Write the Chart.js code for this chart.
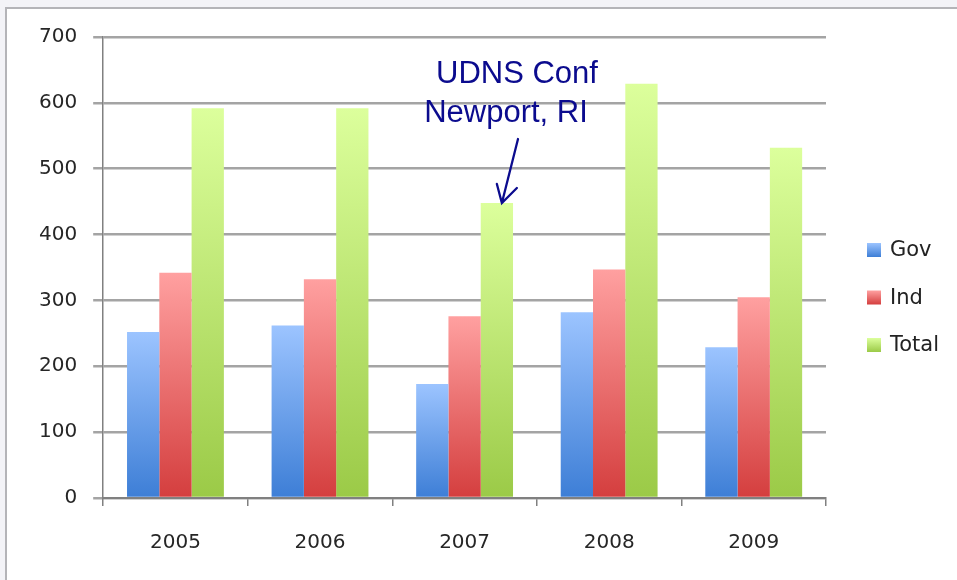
<!DOCTYPE html>
<html>
<head>
<meta charset="utf-8">
<script src="https://cdn.jsdelivr.net/npm/chart.js@4"></script>
<style>
  html, body { margin: 0; padding: 0; background: #f3f3f7; }
  #frame {
    position: absolute; left: 5px; top: 7px; width: 960px; height: 580px;
    background: #fff; border-left: 2px solid #b4b4b8; border-top: 2px solid #b4b4b8;
  }
  #wrap { position: absolute; left: 0; top: 0; width: 957px; height: 580px; }
</style>
</head>
<body>
<div id="frame"></div>
<div id="wrap"><canvas id="chart" width="957" height="580"></canvas></div>
<script>
const years = ['2005', '2006', '2007', '2008', '2009'];
const gov = [252, 262, 173, 282, 229];
const ind = [342, 332, 276, 347, 305];
const total = [592, 592, 448, 629, 532];
const yTicks = [0, 100, 200, 300, 400, 500, 600, 700];
const noteLines = ['UDNS Conf', 'Newport, RI'];
const noteYear = '2007';

const colors = [
    ['#9cc4ff', '#3d7ed6'],
    ['#ffa0a0', '#d43e3e'],
    ['#dcff9c', '#9bca47'],
];

const tickFont = { family: "'DejaVu Sans', sans-serif", size: 20 };

// each bar gets its own top-to-bottom gradient
function barGradient(top, bottom) {
    return function (ctx) {
        const chart = ctx.chart;
        const area = chart.chartArea;
        if (!area || ctx.raw === undefined) return bottom;
        const y = chart.scales.y.getPixelForValue(ctx.raw);
        const g = chart.ctx.createLinearGradient(0, y, 0, area.bottom);
        g.addColorStop(0, top);
        g.addColorStop(1, bottom);
        return g;
    };
}

const legendPlugin = {
    id: 'sideLegend',
    afterDraw(chart) {
        const c = chart.ctx;
        const area = chart.chartArea;
        const x = area.right + 41;
        c.save();
        c.font = "21px 'DejaVu Sans', sans-serif";
        c.textBaseline = 'middle';
        chart.data.datasets.forEach(function (ds, i) {
            const y = area.top + 213 + i * 47.5;
            const g = c.createLinearGradient(0, y - 7, 0, y + 7);
            g.addColorStop(0, colors[i][0]);
            g.addColorStop(1, colors[i][1]);
            c.fillStyle = g;
            c.fillRect(x, y - 7, 14, 14);
            c.fillStyle = '#222';
            c.fillText(ds.label, x + 23, y + 1);
        });
        c.restore();
    }
};

// annotation with arrow pointing at the Total bar of noteYear
const notePlugin = {
    id: 'note',
    afterDatasetsDraw(chart) {
        const c = chart.ctx;
        const idx = years.indexOf(noteYear);
        const bar = chart.getDatasetMeta(2).data[idx];
        const tipX = bar.x + 5;
        const tipY = bar.y;
        c.save();
        c.fillStyle = '#0b0b8e';
        c.font = "31px 'Liberation Sans', Arial, sans-serif";
        c.textAlign = 'center';
        c.fillText(noteLines[0], 517, 83);
        c.fillText(noteLines[1], 506, 122);
        c.strokeStyle = '#0b0b8e';
        c.lineWidth = 2.3;
        c.lineCap = 'round';
        c.beginPath();
        c.moveTo(518, 139);
        c.lineTo(tipX, tipY);
        c.moveTo(tipX - 5, tipY - 19);
        c.lineTo(tipX, tipY);
        c.lineTo(tipX + 15, tipY - 15);
        c.stroke();
        c.restore();
    }
};

new Chart(document.getElementById('chart'), {
    type: 'bar',
    data: {
        labels: years,
        datasets: [
            { label: 'Gov', data: gov, backgroundColor: barGradient(colors[0][0], colors[0][1]) },
            { label: 'Ind', data: ind, backgroundColor: barGradient(colors[1][0], colors[1][1]) },
            { label: 'Total', data: total, backgroundColor: barGradient(colors[2][0], colors[2][1]) },
        ],
    },
    options: {
        responsive: false,
        animation: false,
        layout: { padding: { left: 23, top: 37, right: 131, bottom: 0 } },
        datasets: { bar: { categoryPercentage: 0.67, barPercentage: 1.0 } },
        plugins: {
            tooltip: { enabled: false },
            legend: { display: false },
        },
        scales: {
            x: {
                grid: { offset: true, drawOnChartArea: false, tickLength: 8, color: '#808080', lineWidth: 1.5 },
                border: { color: '#808080', width: 2 },
                ticks: { color: '#262626', font: tickFont, padding: 25 },
            },
            y: {
                min: 0, max: 700,
                afterBuildTicks(axis) { axis.ticks = yTicks.map(function (v) { return { value: v }; }); },
                grid: { color: '#a4a4a4', lineWidth: 2.5, tickLength: 10 },
                border: { color: '#808080', width: 1.5 },
                ticks: { color: '#262626', font: tickFont, padding: 16 },
            },
        },
    },
    plugins: [notePlugin, legendPlugin],
});
</script>
</body>
</html>
